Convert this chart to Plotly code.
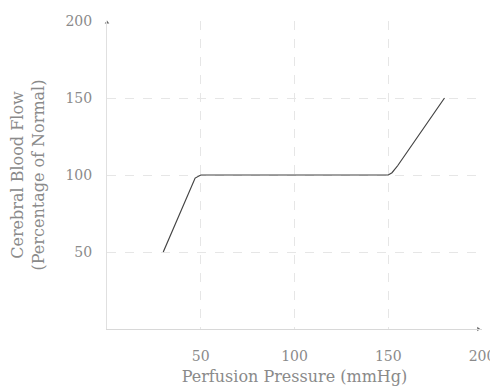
import plotly.graph_objects as go

pressure = [30, 45, 47, 50, 150, 152, 155, 180]
flow = [50, 93, 98, 100, 100, 101.5, 106, 150]
x_ticks = [50, 100, 150, 200]
y_ticks = [50, 100, 150, 200]
x_range = [0, 200]
y_range = [0, 200]

fig = go.Figure()
fig.add_trace(go.Scatter(x=pressure, y=flow, mode="lines",
                         line=dict(color="#444444", width=1.2), showlegend=False))
# small arrow tips at the axis ends
fig.add_trace(go.Scatter(x=[x_range[1] - 2, x_range[0]], y=[y_range[0], y_range[1] - 1],
                         mode="markers", cliponaxis=False, showlegend=False, hoverinfo="skip",
                         marker=dict(symbol=["triangle-right", "triangle-up"], size=4, color="#666666")))

font = dict(family="DejaVu Serif", size=14, color="#8a8a8a")
fig.update_layout(
    width=498, height=390,
    margin=dict(l=99, r=24, t=13, b=69),
    plot_bgcolor="white", paper_bgcolor="white",
    font=font,
    xaxis=dict(range=x_range, tickvals=x_ticks, showgrid=True, automargin=False,
               gridcolor="#e6e6e6", griddash="dash", gridwidth=1,
               showline=True, linecolor="#d8d8d8", linewidth=1,
               zeroline=False, ticks="", ticklabelstandoff=14,
               title=dict(text="Perfusion Pressure (mmHg)", font=dict(size=16, color="#8a8a8a"), standoff=8)),
    yaxis=dict(range=y_range, tickvals=y_ticks, showgrid=True, automargin=False,
               gridcolor="#e6e6e6", griddash="dash", gridwidth=1,
               showline=True, linecolor="#e0e0e0", linewidth=1,
               zeroline=False, ticks="", ticklabelstandoff=11,
               title=dict(text="Cerebral Blood Flow<br>(Percentage of Normal)", font=dict(size=16, color="#8a8a8a"), standoff=20)),
)
fig.write_html("out.html")
